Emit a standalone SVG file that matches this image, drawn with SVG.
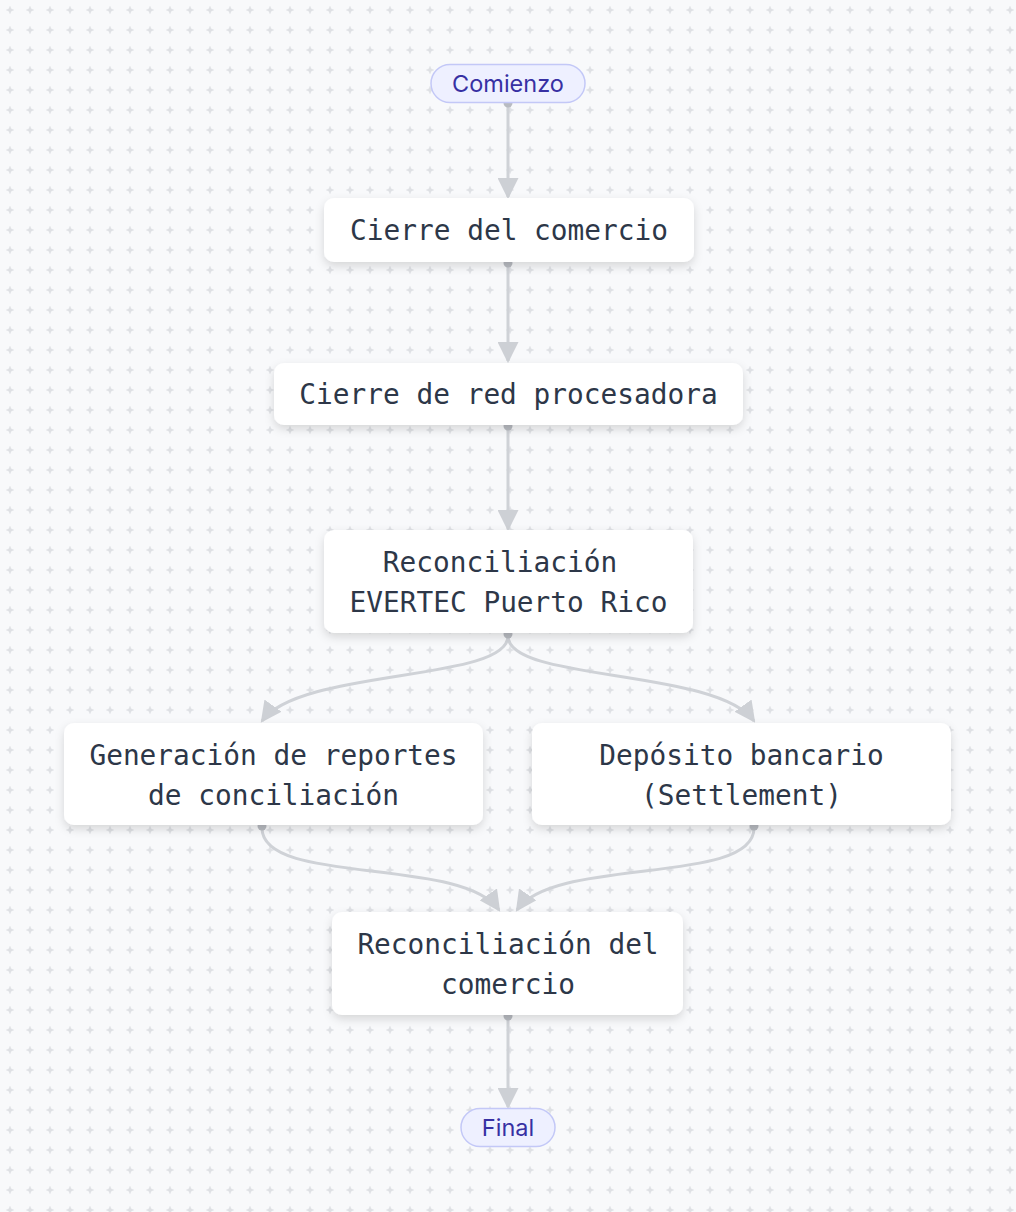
<svg xmlns="http://www.w3.org/2000/svg" width="1016" height="1212" viewBox="0 0 1016 1212">
<defs>
<pattern id="grid" x="0" y="0" width="20" height="20" patternUnits="userSpaceOnUse">
<rect x="9" y="6.5" width="2" height="7" fill="#e4e6ea"/>
<rect x="6.5" y="9" width="7" height="2" fill="#e4e6ea"/>
<circle cx="10" cy="10" r="2" fill="#dfe1e5"/>
</pattern>
<filter id="shadow" x="-10%" y="-20%" width="120%" height="160%">
<feDropShadow dx="0" dy="4" stdDeviation="5" flood-color="#000" flood-opacity="0.14"/>
</filter>
<marker id="arrow" viewBox="0 0 20 20" refX="18" refY="10" markerWidth="21" markerHeight="21" markerUnits="userSpaceOnUse" orient="auto">
<path d="M0,0 L20,10 L0,20 Z" fill="#cdd0d5"/>
</marker>
<style>
.edge{fill:none;stroke:#cfd2d7;stroke-width:3;marker-end:url(#arrow)}
.dot{fill:#b8bbc1}
.box{fill:#ffffff;filter:url(#shadow)}
.pill{fill:#eef0ff;stroke:#c3c8f7;stroke-width:1.5}
.lbl{font-family:"DejaVu Sans Mono","Liberation Mono",monospace;font-size:27.8px;fill:#2d3748;text-anchor:middle}
.plbl{font-family:Inter,"Noto Sans",sans-serif;font-size:23.5px;fill:#3730a3;text-anchor:middle}
</style>
</defs>
<rect width="1016" height="1212" fill="#f8f9fb"/>
<rect width="1016" height="1212" fill="url(#grid)"/>

<g id="connectors">
<path class="edge" d="M508,104 L508,197"/>
<path class="edge" d="M508,264 L508,361"/>
<path class="edge" d="M508,427 L508,529"/>
<path class="edge" d="M508,636 C508,682 300,668 262,721"/>
<path class="edge" d="M508,636 C508,682 716,668 754,721"/>
<path class="edge" d="M262,828 C262,886 462,856 499,910"/>
<path class="edge" d="M754,828 C754,886 554,856 517,910"/>
<path class="edge" d="M508,1017 L508,1107"/>
<circle class="dot" cx="508" cy="103" r="4.5"/>
<circle class="dot" cx="508" cy="263" r="4.5"/>
<circle class="dot" cx="508" cy="426" r="4.5"/>
<circle class="dot" cx="508" cy="634" r="4.5"/>
<circle class="dot" cx="262" cy="826" r="4.5"/>
<circle class="dot" cx="754" cy="826" r="4.5"/>
<circle class="dot" cx="508" cy="1016" r="4.5"/>
</g>

<g id="comienzo">
<rect class="pill" x="431" y="64.5" width="154" height="38" rx="19"/>
<text class="plbl" x="508" y="91.5">Comienzo</text>
</g>

<g id="cierre-comercio">
<rect class="box" x="324" y="198" width="370" height="64" rx="10"/>
<text class="lbl" x="509" y="240">Cierre del comercio</text>
</g>

<g id="cierre-red">
<rect class="box" x="274" y="363" width="469" height="62" rx="10"/>
<text class="lbl" x="508.5" y="404">Cierre de red procesadora</text>
</g>

<g id="reconciliacion-evertec">
<rect class="box" x="324" y="530" width="369" height="103" rx="10"/>
<text class="lbl" x="500" y="572">Reconciliación</text>
<text class="lbl" x="508.5" y="612">EVERTEC Puerto Rico</text>
</g>

<g id="generacion-reportes">
<rect class="box" x="64" y="723" width="419" height="102" rx="10"/>
<text class="lbl" x="273.5" y="764.5">Generación de reportes</text>
<text class="lbl" x="273.5" y="804.5">de conciliación</text>
</g>

<g id="deposito-bancario">
<rect class="box" x="532" y="723" width="419" height="102" rx="10"/>
<text class="lbl" x="741.5" y="764.5">Depósito bancario</text>
<text class="lbl" x="741.5" y="804.5">(Settlement)</text>
</g>

<g id="reconciliacion-comercio">
<rect class="box" x="332" y="912" width="351" height="103" rx="10"/>
<text class="lbl" x="508" y="954">Reconciliación del</text>
<text class="lbl" x="508" y="994">comercio</text>
</g>

<g id="final">
<rect class="pill" x="461" y="1108.5" width="94" height="38" rx="19"/>
<text class="plbl" x="508" y="1135.5">Final</text>
</g>
</svg>
